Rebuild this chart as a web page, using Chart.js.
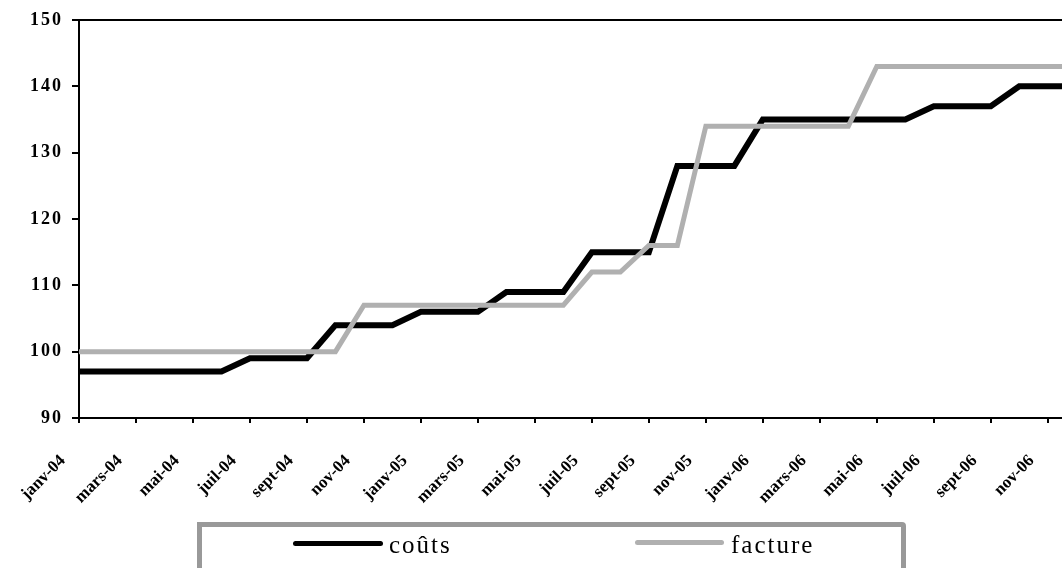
<!DOCTYPE html>
<html lang="fr">
<head>
    <meta charset="UTF-8">
    <title>coûts / facture</title>
    <script src="https://cdn.jsdelivr.net/npm/chart.js"></script>
    <style>
        body { margin: 0; background: #fff; overflow: hidden; }
        .wrap { position: relative; width: 1062px; height: 568px; overflow: hidden; }
        .legend-box { position: absolute; left: 197px; top: 522px; width: 699px; height: 80px;
                      border: 5px solid #999; border-radius: 0 4px 0 0; }
        .swatch { position: absolute; height: 5px; border-radius: 3px; }
        .legend-text { position: absolute; font: 25px/24px "Liberation Serif", serif; letter-spacing: 2px; color: #000; }
    </style>
</head>
<body>
<div class="wrap">
    <canvas id="chart"></canvas>
    <div class="legend-box"></div>
    <div id="legend"></div>
</div>
<script>
    // monthly, janv-04 .. déc-06
    const months = [
        'janv-04', 'févr-04', 'mars-04', 'avr-04', 'mai-04', 'juin-04', 'juil-04', 'août-04', 'sept-04', 'oct-04', 'nov-04', 'déc-04',
        'janv-05', 'févr-05', 'mars-05', 'avr-05', 'mai-05', 'juin-05', 'juil-05', 'août-05', 'sept-05', 'oct-05', 'nov-05', 'déc-05',
        'janv-06', 'févr-06', 'mars-06', 'avr-06', 'mai-06', 'juin-06', 'juil-06', 'août-06', 'sept-06', 'oct-06', 'nov-06', 'déc-06'
    ];
    const couts = [
        97, 97, 97, 97, 97, 97, 99, 99, 99, 104, 104, 104,
        106, 106, 106, 109, 109, 109, 115, 115, 115, 128, 128, 128,
        135, 135, 135, 135, 135, 135, 137, 137, 137, 140, 140, 140
    ];
    const facture = [
        100, 100, 100, 100, 100, 100, 100, 100, 100, 100, 107, 107,
        107, 107, 107, 107, 107, 107, 112, 112, 116, 116, 134, 134,
        134, 134, 134, 134, 143, 143, 143, 143, 143, 143, 143, 143
    ];
    const seriesNames = ['coûts', 'facture'];
    const seriesColors = ['#000000', '#b0b0b0'];
    const yTicks = [90, 100, 110, 120, 130, 140, 150];

    const toPoints = arr => arr.map((v, i) => ({ x: i, y: v }));

    // loose spacing for the y labels only; x labels are drawn after the datasets (ticks.z = 1)
    const spacing = {
        id: 'spacing',
        beforeDraw(chart) { chart.ctx.letterSpacing = '2px'; },
        afterDatasetsDraw(chart) { chart.ctx.letterSpacing = '0px'; }
    };

    // top edge of the plot frame
    const frameTop = {
        id: 'frameTop',
        afterDraw(chart) {
            const { ctx, chartArea } = chart;
            ctx.save();
            ctx.strokeStyle = '#000';
            ctx.lineWidth = 2;
            ctx.beginPath();
            ctx.moveTo(chartArea.left, chartArea.top);
            ctx.lineTo(chartArea.right + 10, chartArea.top);
            ctx.stroke();
            ctx.restore();
        }
    };

    const ctx = document.getElementById('chart').getContext('2d');
    new Chart(ctx, {
        type: 'line',
        data: {
            datasets: [
                { label: seriesNames[0], data: toPoints(couts), borderColor: seriesColors[0], borderWidth: 6, order: 1 },
                { label: seriesNames[1], data: toPoints(facture), borderColor: seriesColors[1], borderWidth: 5, order: 0 }
            ]
        },
        options: {
            responsive: true,
            maintainAspectRatio: false,
            animation: false,
            layout: { padding: { top: 20, left: 0, right: 0, bottom: 0 } },
            elements: {
                point: { radius: 0 },
                line: { tension: 0, borderJoinStyle: 'miter', borderCapStyle: 'butt', fill: false }
            },
            plugins: { legend: { display: false }, tooltip: { enabled: false } },
            scales: {
                x: {
                    type: 'linear',
                    min: 0,
                    max: 34.5,
                    afterFit: s => { s.height = 150; s.paddingLeft = 0; s.paddingRight = 0; },
                    border: { display: true, color: '#000', width: 2 },
                    grid: { drawOnChartArea: false, drawTicks: true, tickLength: 5, color: '#000', lineWidth: 2 },
                    ticks: {
                        z: 1,
                        stepSize: 2,
                        includeBounds: false,
                        autoSkip: false,
                        minRotation: 45,
                        maxRotation: 45,
                        padding: 28,
                        labelOffset: -16,
                        color: '#000',
                        font: { family: 'Liberation Serif', size: 17, weight: 'bold' },
                        callback: v => months[v] || ''
                    }
                },
                y: {
                    min: 90,
                    max: 150,
                    afterFit: s => { s.width = 79; },
                    afterBuildTicks: s => { s.ticks = yTicks.map(v => ({ value: v })); },
                    border: { display: true, color: '#000', width: 2 },
                    grid: { drawOnChartArea: false, drawTicks: true, tickLength: 7, color: '#000', lineWidth: 2 },
                    ticks: {
                        padding: 9,
                        color: '#000',
                        font: { family: 'Liberation Serif', size: 18, weight: 'bold' }
                    }
                }
            }
        },
        plugins: [spacing, frameTop]
    });

    // legend drawn as html, inside the grey frame
    const legendPos = [
        { line: 293, width: 90, top: 541, text: 389 },
        { line: 635, width: 89, top: 540, text: 731 }
    ];
    const legend = document.getElementById('legend');
    seriesNames.forEach((name, i) => {
        const sw = document.createElement('div');
        sw.className = 'swatch';
        sw.style.left = legendPos[i].line + 'px';
        sw.style.top = legendPos[i].top + 'px';
        sw.style.width = legendPos[i].width + 'px';
        sw.style.background = seriesColors[i];
        legend.appendChild(sw);
        const t = document.createElement('div');
        t.className = 'legend-text';
        t.style.left = legendPos[i].text + 'px';
        t.style.top = '533px';
        t.textContent = name;
        legend.appendChild(t);
    });
</script>
</body>
</html>
